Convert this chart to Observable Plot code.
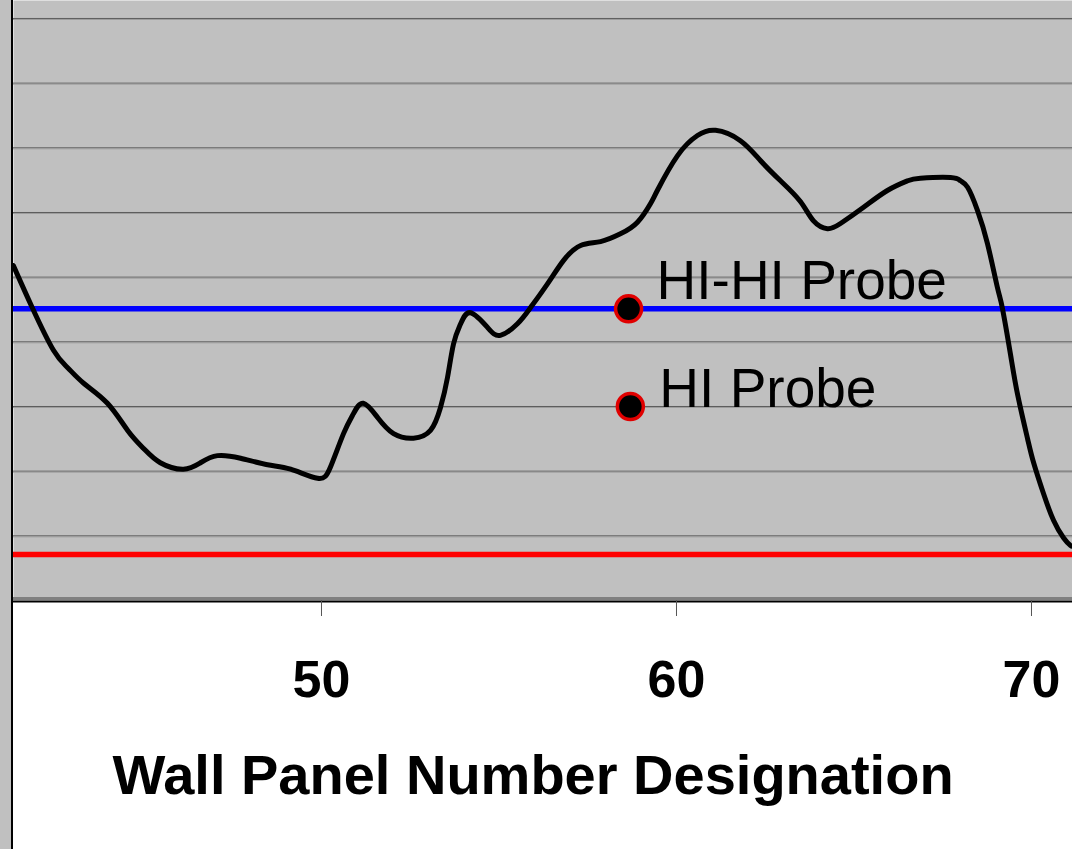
<!DOCTYPE html>
<html>
<head>
<meta charset="utf-8">
<script src="https://cdn.jsdelivr.net/npm/d3@7"></script>
<script src="https://cdn.jsdelivr.net/npm/@observablehq/plot@0.6"></script>
<style>
  html, body { margin: 0; padding: 0; background: #ffffff; }
  #wrap { position: relative; width: 1072px; height: 849px; overflow: hidden; background: #ffffff; }
  #strip { position: absolute; left: 0; top: 0; width: 11px; height: 849px; background: #c0c0c0; }
  #edge { position: absolute; left: 11px; top: 0; width: 2px; height: 849px; background: #000000; }
  svg { font-family: "Liberation Sans", Arial, sans-serif; }
</style>
</head>
<body>
<div id="wrap"><div id="chart"></div><div id="strip"></div><div id="edge"></div></div>
<script>
// Wall panel number (x) and level reading (y, in grid units) of the measured profile
const panelX = [41.32, 41.86, 42.45, 42.85, 43.30, 43.97, 44.54, 44.99, 45.46, 46.11,
  46.59, 47.07, 47.72, 48.48, 49.13, 49.89, 50.25, 50.62, 50.90, 51.18,
  51.58, 52.03, 52.59, 53.07, 53.35, 53.55, 53.72, 53.92, 54.20, 54.68,
  55.04, 55.52, 55.89, 56.37, 56.82, 57.30, 57.86, 58.42, 58.90, 59.27,
  59.46, 60.03, 60.59, 61.10, 61.80, 62.37, 62.93, 63.49, 63.86, 64.25,
  64.62, 65.27, 65.94, 66.51, 66.87, 67.72, 68.00, 68.20, 68.48, 68.76,
  69.04, 69.18, 69.41, 69.61, 69.89, 70.06, 70.34, 70.62, 70.90, 71.10,
  71.16];
const levelY = [5.18, 4.52, 3.87, 3.60, 3.36, 3.05, 2.63, 2.35, 2.13, 2.03,
  2.13, 2.24, 2.20, 2.10, 2.03, 1.89, 2.06, 2.58, 2.89, 3.05,
  2.83, 2.58, 2.51, 2.63, 2.98, 3.45, 3.97, 4.28, 4.45, 4.22,
  4.10, 4.28, 4.53, 4.90, 5.26, 5.49, 5.55, 5.67, 5.85, 6.14,
  6.34, 6.88, 7.19, 7.27, 7.11, 6.80, 6.49, 6.17, 5.87, 5.75,
  5.83, 6.08, 6.34, 6.49, 6.53, 6.54, 6.49, 6.39, 6.03, 5.52,
  4.84, 4.52, 3.80, 3.18, 2.50, 2.13, 1.65, 1.24, 0.97, 0.85,
  0.84];

// Reference levels
const hiHiLevel = 4.51;   // blue line
const lowLevel = 0.71;    // red line

// Probe markers
const probeNames = ["HI-HI Probe", "HI Probe"];
const probeX = [58.65, 58.70];
const probeY = [4.51, 3.00];

// Axis
const xTicks = [50, 60, 70];
const gridLevels = [1, 2, 3, 4, 5, 6, 7, 8, 9];
const xTitle = "Wall Panel Number Designation";

const profile = panelX.map((x, i) => ({x, y: levelY[i]}));
const probes = probeNames.map((name, i) => ({name, x: probeX[i], y: probeY[i]}));

const labelStyle = {x: "x", y: "y", text: "name", textAnchor: "start", lineAnchor: "bottom",
  fontSize: 55, fill: "#000000"};

const chart = Plot.plot({
  width: 1072,
  height: 849,
  marginLeft: 13,
  marginRight: 0,
  marginTop: 0,
  marginBottom: 249,
  style: {background: "transparent", fontFamily: "'Liberation Sans', Arial, sans-serif", overflow: "visible"},
  x: {domain: [41.324, 71.155], axis: null},
  y: {domain: [0, 9.278], axis: null},
  marks: [
    Plot.frame({fill: "#c0c0c0", stroke: null}),
    Plot.ruleY(gridLevels, {stroke: "#5c5c5c", strokeWidth: 1}),
    Plot.ruleY(gridLevels, {stroke: "#9c9c9c", strokeWidth: 1, dy: 1}),
    Plot.ruleY([0], {stroke: "#808080", strokeWidth: 3, dy: -2}),
    Plot.ruleY([0], {stroke: "#000000", strokeWidth: 2, dy: 1}),
    Plot.ruleY([lowLevel], {stroke: "#ff0000", strokeWidth: 5.5}),
    Plot.ruleY([hiHiLevel], {stroke: "#0000ff", strokeWidth: 5.5}),
    Plot.line(profile, {x: "x", y: "y", curve: "natural", stroke: "#000000", strokeWidth: 5, clip: true}),
    Plot.dot(probes, {x: "x", y: "y", r: 13, fill: "#000000", stroke: "#e00000", strokeWidth: 3.5}),
    Plot.text(probes.filter(d => d.name === "HI-HI Probe"), {...labelStyle, dx: 28, dy: -10}),
    Plot.text(probes.filter(d => d.name === "HI Probe"), {...labelStyle, dx: 29, dy: 1}),
    Plot.axisX({ticks: xTicks, tickSize: 16, tickPadding: 44, tickFormat: d => String(d),
      fontSize: 52, fontWeight: "bold", stroke: "#555555", fill: "#000000", label: null}),
    Plot.text([xTitle], {frameAnchor: "bottom", dx: -10, dy: 193, lineAnchor: "bottom",
      fontSize: 56, fontWeight: "bold", fill: "#000000"})
  ]
});

document.getElementById("chart").appendChild(chart);
</script>
</body>
</html>
